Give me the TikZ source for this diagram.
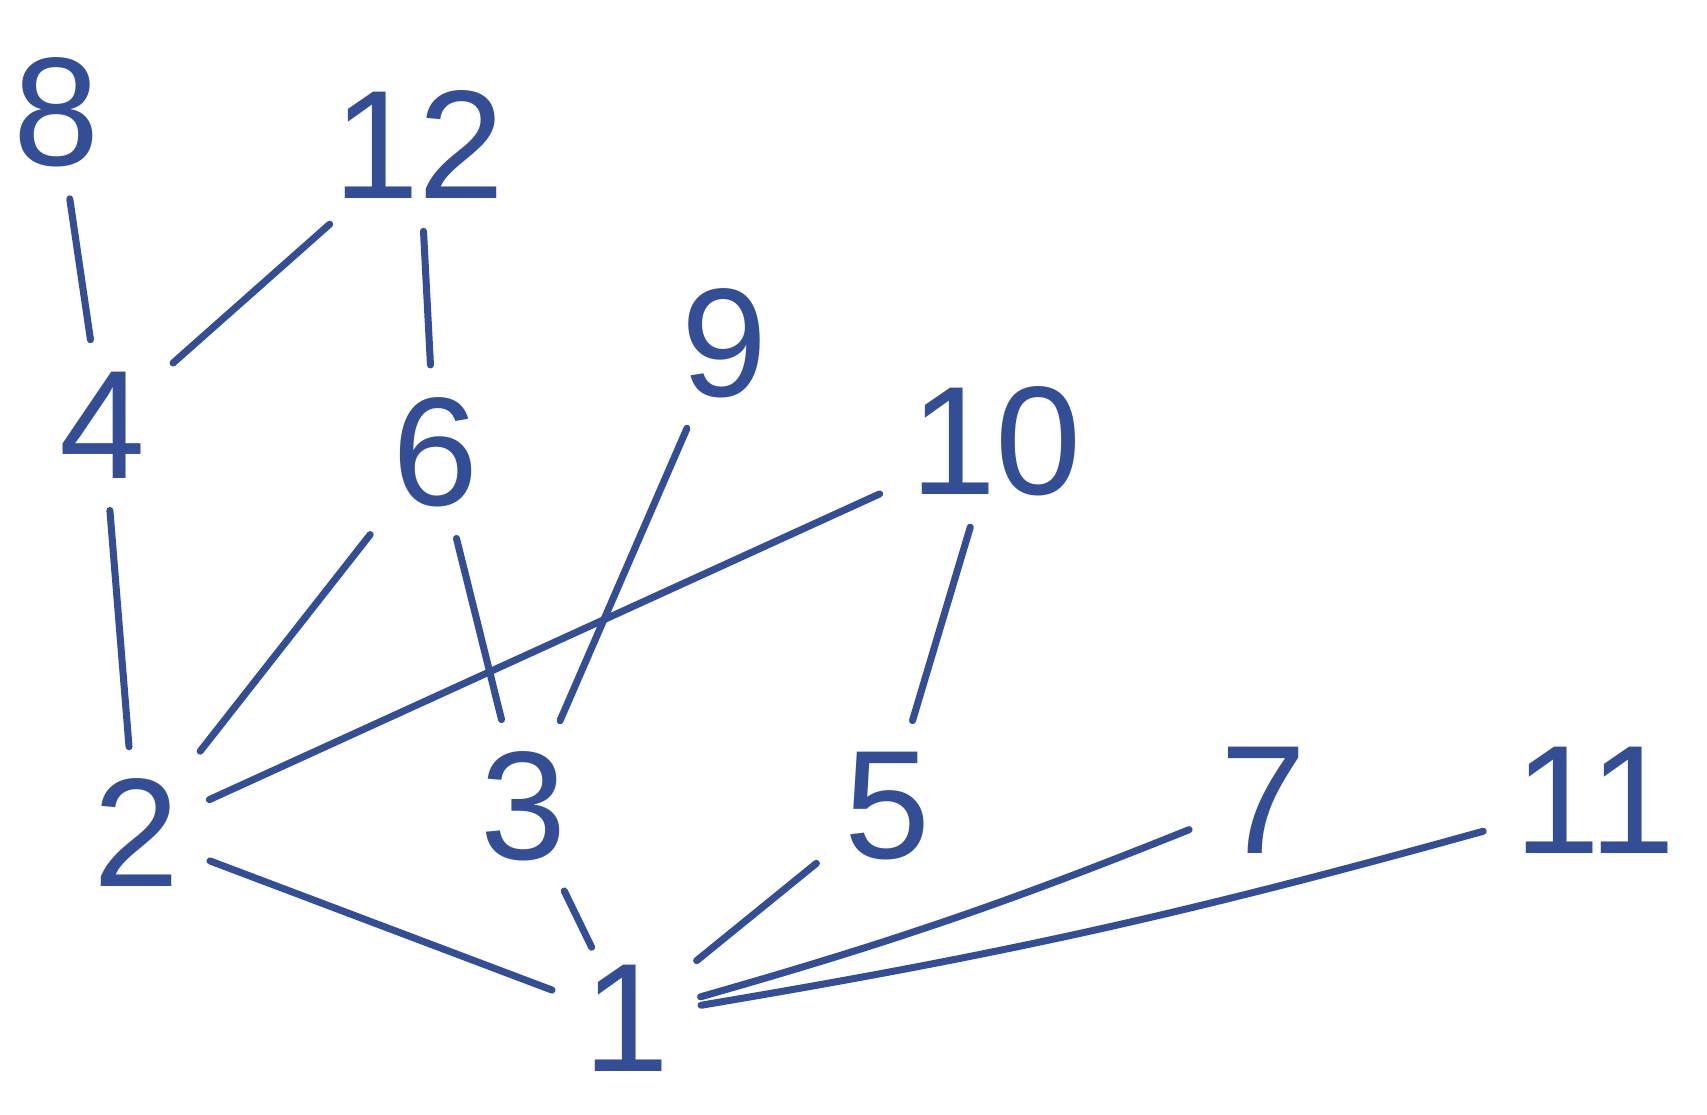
\documentclass[tikz,border=0pt]{standalone}
\usepackage{fontspec}
\setmainfont{Liberation Sans}
\usepackage{xcolor}
\usepackage{tikz}
\usetikzlibrary{positioning,calc}
\definecolor{ink}{RGB}{52, 78, 150}

\tikzset{
    num/.style={text=ink, font=\fontsize{44}{50}\selectfont, inner sep=3pt},
    link/.style={draw=ink, line width=2pt, line cap=round, shorten <=6pt, shorten >=6pt}
}

\begin{document}
\begin{tikzpicture}
    \useasboundingbox (0,0) rectangle (17.07,11.14);
    % elements
    \node[num] (n8)  at (0.57, 10.02) {8};
    \node[num] (n12) at (4.19, 9.69) {12};
    \node[num] (n4)  at (1.03, 6.89) {4};
    \node[num] (n6)  at (4.35, 6.62) {6};
    \node[num] (n9)  at (7.24, 7.71) {9};
    \node[num] (n10) at (9.96, 6.73) {10};
    \node[num] (n2)  at (1.36, 2.81) {2};
    \node[num] (n3)  at (5.23, 3.08) {3};
    \node[num] (n5)  at (8.87, 3.08) {5};
    \node[num] (n7)  at (12.63, 3.14) {7};
    \node[num] (n11) at (15.95, 3.14) {11};
    \node[num] (n1)  at (6.26, 0.96) {1};
    % covering relations
    \draw[link] (n8) -- (n4);
    \draw[link] (n12) -- (n4);
    \draw[link] (n12) -- (n6);
    \draw[link] (n4) -- (n2);
    \draw[link] (n6) -- (n2);
    \draw[link] (n10) -- (n2);
    \draw[link] (n6) -- (n3);
    \draw[link] (n9) -- (n3);
    \draw[link] (n10) -- (n5);
    \draw[link] (n2) -- (n1);
    \draw[link, shorten >=2pt] (n3) -- (n1);
    \draw[link] (n1) -- (n5);
    \draw[link] (n1) to[bend right=3] (n7);
    \draw[link] (n1) to[bend right=3] (n11);
\end{tikzpicture}
\end{document}
